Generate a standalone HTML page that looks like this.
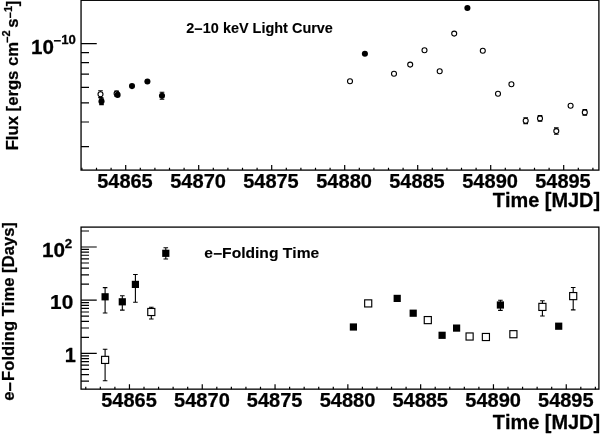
<!DOCTYPE html>
<html lang="en">
<head>
<meta charset="utf-8">
<title>2-10 keV Light Curve and e-Folding Time</title>
<style>
html,body{margin:0;padding:0;background:#fff;}
body{width:600px;height:434px;overflow:hidden;}
svg{display:block;}
</style>
</head>
<body>
<svg width="600" height="434" viewBox="0 0 600 434" font-family="'Liberation Sans', sans-serif" font-weight="bold" fill="#000" style="font-kerning:none">
<rect width="600" height="434" fill="#fff"/>
<rect x="81.05" y="0.30" width="517.85" height="169.80" fill="none" stroke="#000" stroke-width="1.3"/>
<path d="M81.90 170.10v-2.3M96.50 170.10v-2.3M111.10 170.10v-2.3M125.70 170.10v-5.0M140.30 170.10v-2.3M154.90 170.10v-2.3M169.50 170.10v-2.3M184.10 170.10v-2.3M198.70 170.10v-5.0M213.30 170.10v-2.3M227.90 170.10v-2.3M242.50 170.10v-2.3M257.10 170.10v-2.3M271.70 170.10v-5.0M286.30 170.10v-2.3M300.90 170.10v-2.3M315.50 170.10v-2.3M330.10 170.10v-2.3M344.70 170.10v-5.0M359.30 170.10v-2.3M373.90 170.10v-2.3M388.50 170.10v-2.3M403.10 170.10v-2.3M417.70 170.10v-5.0M432.30 170.10v-2.3M446.90 170.10v-2.3M461.50 170.10v-2.3M476.10 170.10v-2.3M490.70 170.10v-5.0M505.30 170.10v-2.3M519.90 170.10v-2.3M534.50 170.10v-2.3M549.10 170.10v-2.3M563.70 170.10v-5.0M578.30 170.10v-2.3M592.90 170.10v-2.3" stroke="#000" stroke-width="1.2" fill="none"/>
<path d="M81.05 146.61h7.95M81.05 121.99h7.95M81.05 102.90h7.95M81.05 87.30h7.95M81.05 74.12h7.95M81.05 62.69h7.95M81.05 52.61h7.95M81.05 43.60h15.7" stroke="#000" stroke-width="1.2" fill="none"/>
<rect x="81.05" y="227.10" width="517.85" height="162.05" fill="none" stroke="#000" stroke-width="1.3"/>
<path d="M85.77 389.15v-2.3M100.33 389.15v-2.3M114.89 389.15v-2.3M129.45 389.15v-5.0M144.01 389.15v-2.3M158.57 389.15v-2.3M173.13 389.15v-2.3M187.69 389.15v-2.3M202.25 389.15v-5.0M216.81 389.15v-2.3M231.37 389.15v-2.3M245.93 389.15v-2.3M260.49 389.15v-2.3M275.05 389.15v-5.0M289.61 389.15v-2.3M304.17 389.15v-2.3M318.73 389.15v-2.3M333.29 389.15v-2.3M347.85 389.15v-5.0M362.41 389.15v-2.3M376.97 389.15v-2.3M391.53 389.15v-2.3M406.09 389.15v-2.3M420.65 389.15v-5.0M435.21 389.15v-2.3M449.77 389.15v-2.3M464.33 389.15v-2.3M478.89 389.15v-2.3M493.45 389.15v-5.0M508.01 389.15v-2.3M522.57 389.15v-2.3M537.13 389.15v-2.3M551.69 389.15v-2.3M566.25 389.15v-5.0M580.81 389.15v-2.3M595.37 389.15v-2.3" stroke="#000" stroke-width="1.2" fill="none"/>
<path d="M81.05 381.22h7.95M81.05 374.57h7.95M81.05 369.41h7.95M81.05 365.20h7.95M81.05 361.64h7.95M81.05 358.56h7.95M81.05 355.83h7.95M81.05 353.40h15.7M81.05 337.39h7.95M81.05 328.02h7.95M81.05 321.37h7.95M81.05 316.21h7.95M81.05 312.00h7.95M81.05 308.44h7.95M81.05 305.36h7.95M81.05 302.63h7.95M81.05 300.20h15.7M81.05 284.19h7.95M81.05 274.82h7.95M81.05 268.17h7.95M81.05 263.01h7.95M81.05 258.80h7.95M81.05 255.24h7.95M81.05 252.16h7.95M81.05 249.43h7.95M81.05 247.00h15.7M81.05 230.99h7.95" stroke="#000" stroke-width="1.2" fill="none"/>
<g stroke="#000" stroke-width="0.25" stroke-linejoin="round">
<text transform="translate(97.19 188.35) scale(1.0196 1)" font-size="19.6">54865</text>
<text transform="translate(170.18 188.35) scale(1.0246 1)" font-size="19.6">54870</text>
<text transform="translate(243.19 188.35) scale(1.0196 1)" font-size="19.6">54875</text>
<text transform="translate(316.18 188.35) scale(1.0246 1)" font-size="19.6">54880</text>
<text transform="translate(389.19 188.35) scale(1.0196 1)" font-size="19.6">54885</text>
<text transform="translate(462.18 188.35) scale(1.0246 1)" font-size="19.6">54890</text>
<text transform="translate(535.19 188.35) scale(1.0196 1)" font-size="19.6">54895</text>
<text transform="translate(101.24 407.25) scale(1.0196 1)" font-size="19.6">54865</text>
<text transform="translate(174.03 407.25) scale(1.0246 1)" font-size="19.6">54870</text>
<text transform="translate(246.84 407.25) scale(1.0196 1)" font-size="19.6">54875</text>
<text transform="translate(319.63 407.25) scale(1.0246 1)" font-size="19.6">54880</text>
<text transform="translate(392.44 407.25) scale(1.0196 1)" font-size="19.6">54885</text>
<text transform="translate(465.23 407.25) scale(1.0246 1)" font-size="19.6">54890</text>
<text transform="translate(538.04 407.25) scale(1.0196 1)" font-size="19.6">54895</text>
<text transform="translate(492.78 206.80) scale(1.0320 1)" font-size="19.3">Time [MJD]</text>
<text transform="translate(492.78 428.75) scale(1.0320 1)" font-size="19.3">Time [MJD]</text>
<text transform="translate(31.10 53.70) scale(1.0300 1)" font-size="20.0">10<tspan font-size="12.8" dy="-8.7" dx="-0.45">−</tspan><tspan font-size="12.8" dy="-1.0">10</tspan></text>
<text transform="translate(42.09 257.25) scale(1.0575 1)" font-size="19.6">10<tspan font-size="12.6" dy="-8.95" dx="-0.39">2</tspan></text>
<text transform="translate(50.09 308.80) scale(1.0626 1)" font-size="19.6">10</text>
<text transform="translate(64.69 361.65) scale(1.0200 1)" font-size="19.6">1</text>
<text transform="translate(17.85 150.32) rotate(-90) scale(1 0.98)" font-size="16.7">Flux [ergs cm<tspan font-size="11.0" dy="-6.79" dx="-1.1">−</tspan><tspan font-size="11.0" dy="-1.33">2 </tspan><tspan dy="8.11" dx="-0.3">s</tspan><tspan font-size="11.0" dy="-4.34">−</tspan><tspan font-size="11.0" dy="-1.33">1</tspan><tspan dy="5.66" dx="-0.5">]</tspan></text>
<text transform="translate(14.10 400.75) rotate(-90) scale(1 1.025)" font-size="16.64">e<tspan dy="1.4">−</tspan><tspan dy="-1.4" dx="0.9">Folding Time [Days]</tspan></text>
<g stroke-width="0.12">
<text transform="translate(186.30 32.80) scale(0.9648 1)" font-size="15.0">2<tspan dy="1.20">−</tspan><tspan dy="-1.20">10 keV Light Curve</tspan></text>
<text transform="translate(204.29 258.20) scale(1.0139 1)" font-size="15.4">e<tspan dy="1.20">−</tspan><tspan dy="-1.20">Folding Time</tspan></text>
</g>
</g>
<path d="M100.50 90.70V97.60M98.20 90.70h4.6M98.20 97.60h4.6" stroke="#000" stroke-width="1.1" fill="none"/>
<circle cx="100.50" cy="94.30" r="2.5" fill="#fff" stroke="#000" stroke-width="1.1"/>
<path d="M101.50 98.10V104.60M99.20 98.10h4.6M99.20 104.60h4.6" stroke="#000" stroke-width="1.1" fill="none"/>
<circle cx="101.50" cy="101.40" r="3.05" fill="#000"/>
<path d="M116.60 91.00V96.20M114.30 91.00h4.6M114.30 96.20h4.6" stroke="#000" stroke-width="1.1" fill="none"/>
<circle cx="116.60" cy="93.60" r="2.5" fill="#fff" stroke="#000" stroke-width="1.1"/>
<circle cx="117.60" cy="94.90" r="3.05" fill="#000"/>
<circle cx="132.00" cy="86.10" r="3.05" fill="#000"/>
<circle cx="147.40" cy="81.50" r="3.05" fill="#000"/>
<path d="M162.00 92.30V99.20M159.70 92.30h4.6M159.70 99.20h4.6" stroke="#000" stroke-width="1.1" fill="none"/>
<circle cx="162.00" cy="95.70" r="3.05" fill="#000"/>
<circle cx="350.00" cy="81.30" r="2.5" fill="#fff" stroke="#000" stroke-width="1.1"/>
<circle cx="364.90" cy="53.70" r="3.05" fill="#000"/>
<circle cx="394.00" cy="73.70" r="2.5" fill="#fff" stroke="#000" stroke-width="1.1"/>
<circle cx="410.20" cy="64.60" r="2.5" fill="#fff" stroke="#000" stroke-width="1.1"/>
<circle cx="424.50" cy="50.30" r="2.5" fill="#fff" stroke="#000" stroke-width="1.1"/>
<circle cx="439.70" cy="71.30" r="2.5" fill="#fff" stroke="#000" stroke-width="1.1"/>
<circle cx="454.20" cy="33.60" r="2.5" fill="#fff" stroke="#000" stroke-width="1.1"/>
<circle cx="467.40" cy="8.00" r="3.05" fill="#000"/>
<circle cx="482.80" cy="50.70" r="2.5" fill="#fff" stroke="#000" stroke-width="1.1"/>
<circle cx="498.00" cy="93.80" r="2.5" fill="#fff" stroke="#000" stroke-width="1.1"/>
<circle cx="511.40" cy="84.20" r="2.5" fill="#fff" stroke="#000" stroke-width="1.1"/>
<path d="M525.70 117.70V123.60M523.40 117.70h4.6M523.40 123.60h4.6" stroke="#000" stroke-width="1.1" fill="none"/>
<circle cx="525.70" cy="120.70" r="2.5" fill="#fff" stroke="#000" stroke-width="1.1"/>
<path d="M540.00 115.60V121.30M537.70 115.60h4.6M537.70 121.30h4.6" stroke="#000" stroke-width="1.1" fill="none"/>
<circle cx="540.00" cy="118.40" r="2.5" fill="#fff" stroke="#000" stroke-width="1.1"/>
<path d="M556.30 127.90V134.20M554.00 127.90h4.6M554.00 134.20h4.6" stroke="#000" stroke-width="1.1" fill="none"/>
<circle cx="556.30" cy="131.10" r="2.5" fill="#fff" stroke="#000" stroke-width="1.1"/>
<circle cx="570.60" cy="105.80" r="2.5" fill="#fff" stroke="#000" stroke-width="1.1"/>
<path d="M584.80 109.50V115.30M582.50 109.50h4.6M582.50 115.30h4.6" stroke="#000" stroke-width="1.1" fill="none"/>
<circle cx="584.80" cy="112.40" r="2.5" fill="#fff" stroke="#000" stroke-width="1.1"/>
<path d="M105.10 287.60V313.00M102.80 287.60h4.6M102.80 313.00h4.6" stroke="#000" stroke-width="1.1" fill="none"/>
<rect x="101.50" y="293.20" width="7.2" height="7.2" fill="#000"/>
<path d="M122.30 295.70V310.10M120.00 295.70h4.6M120.00 310.10h4.6" stroke="#000" stroke-width="1.1" fill="none"/>
<rect x="118.70" y="298.20" width="7.2" height="7.2" fill="#000"/>
<path d="M135.40 274.50V302.30M133.10 274.50h4.6M133.10 302.30h4.6" stroke="#000" stroke-width="1.1" fill="none"/>
<rect x="131.80" y="280.80" width="7.2" height="7.2" fill="#000"/>
<path d="M151.30 307.30V319.00M149.00 307.30h4.6M149.00 319.00h4.6" stroke="#000" stroke-width="1.1" fill="none"/>
<rect x="147.75" y="308.45" width="7.1" height="7.1" fill="#fff" stroke="#000" stroke-width="1.15"/>
<path d="M165.80 247.70V259.00M163.50 247.70h4.6M163.50 259.00h4.6" stroke="#000" stroke-width="1.1" fill="none"/>
<rect x="162.20" y="249.70" width="7.2" height="7.2" fill="#000"/>
<path d="M105.10 349.30V380.80M102.80 349.30h4.6M102.80 380.80h4.6" stroke="#000" stroke-width="1.1" fill="none"/>
<rect x="101.55" y="356.35" width="7.1" height="7.1" fill="#fff" stroke="#000" stroke-width="1.15"/>
<rect x="349.80" y="323.40" width="7.2" height="7.2" fill="#000"/>
<rect x="364.65" y="299.85" width="7.1" height="7.1" fill="#fff" stroke="#000" stroke-width="1.15"/>
<rect x="393.60" y="294.80" width="7.2" height="7.2" fill="#000"/>
<rect x="409.60" y="309.60" width="7.2" height="7.2" fill="#000"/>
<rect x="424.25" y="316.55" width="7.1" height="7.1" fill="#fff" stroke="#000" stroke-width="1.15"/>
<rect x="438.50" y="331.70" width="7.2" height="7.2" fill="#000"/>
<rect x="453.00" y="324.50" width="7.2" height="7.2" fill="#000"/>
<rect x="466.05" y="332.95" width="7.1" height="7.1" fill="#fff" stroke="#000" stroke-width="1.15"/>
<rect x="482.35" y="333.45" width="7.1" height="7.1" fill="#fff" stroke="#000" stroke-width="1.15"/>
<path d="M500.40 300.30V310.40M498.10 300.30h4.6M498.10 310.40h4.6" stroke="#000" stroke-width="1.1" fill="none"/>
<rect x="496.80" y="301.40" width="7.2" height="7.2" fill="#000"/>
<rect x="509.85" y="330.65" width="7.1" height="7.1" fill="#fff" stroke="#000" stroke-width="1.15"/>
<path d="M542.40 300.80V316.00M540.10 300.80h4.6M540.10 316.00h4.6" stroke="#000" stroke-width="1.1" fill="none"/>
<rect x="538.85" y="303.35" width="7.1" height="7.1" fill="#fff" stroke="#000" stroke-width="1.15"/>
<rect x="555.10" y="322.60" width="7.2" height="7.2" fill="#000"/>
<path d="M573.20 287.50V309.90M570.90 287.50h4.6M570.90 309.90h4.6" stroke="#000" stroke-width="1.1" fill="none"/>
<rect x="569.65" y="292.55" width="7.1" height="7.1" fill="#fff" stroke="#000" stroke-width="1.15"/>
</svg>
</body>
</html>
